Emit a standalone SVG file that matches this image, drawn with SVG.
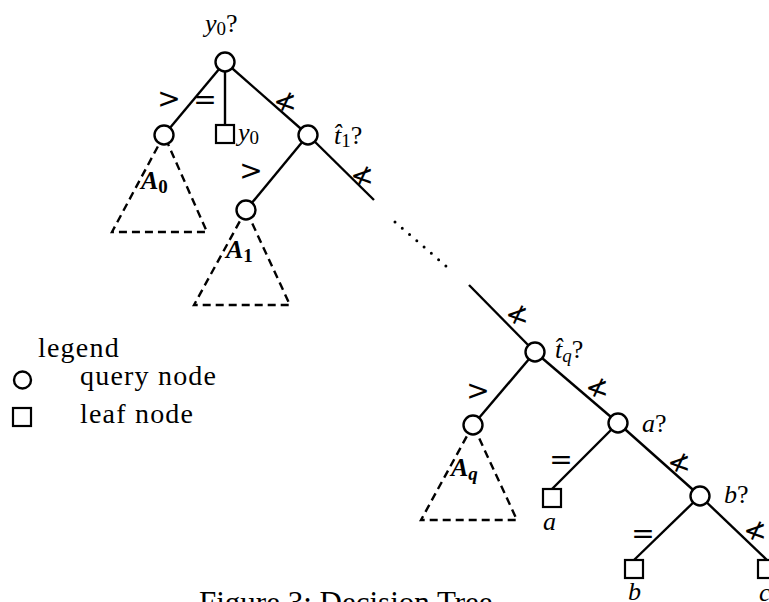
<svg xmlns="http://www.w3.org/2000/svg" width="769" height="602" viewBox="0 0 769 602">
<style>
.e{stroke:#000;stroke-width:2.4;fill:none}
.q{fill:#fff;stroke:#000;stroke-width:2.4}
.l{fill:#fff;stroke:#000;stroke-width:2.2}
.t{fill:none;stroke:#000;stroke-width:2.4;stroke-dasharray:8 5}
.m{font-family:"Liberation Serif",serif;font-style:italic;font-size:26px;fill:#000}
.s{font-size:19px;font-style:normal}
.u{font-style:normal}
.r{font-family:"DejaVu Sans",sans-serif;font-size:28px;text-anchor:middle;fill:#000}
.tl{font-family:"Liberation Serif",serif;font-style:italic;font-weight:bold;font-size:26px;fill:#000}
.lg{font-family:"Liberation Serif",serif;font-size:28px;letter-spacing:1.2px;fill:#000}
.cap{font-family:"Liberation Serif",serif;font-size:31px;fill:#000}
</style>
<rect width="769" height="602" fill="#fff"/>
<g id="connectors">
<line class="e" x1="225" y1="62" x2="164" y2="135"/>
<line class="e" x1="225" y1="62" x2="225" y2="125"/>
<line class="e" x1="225" y1="62" x2="308" y2="135"/>
<line class="e" x1="308" y1="135" x2="246" y2="210"/>
<line class="e" x1="308" y1="135" x2="374" y2="200"/>
<line x1="395" y1="222" x2="446" y2="266" stroke="#000" stroke-width="3" stroke-linecap="round" stroke-dasharray="0 9.6"/>
<line class="e" x1="469" y1="285" x2="535" y2="352"/>
<line class="e" x1="535" y1="352" x2="473" y2="425"/>
<line class="e" x1="535" y1="352" x2="618" y2="423"/>
<line class="e" x1="618" y1="423" x2="552" y2="489"/>
<line class="e" x1="618" y1="423" x2="700" y2="496"/>
<line class="e" x1="700" y1="496" x2="634" y2="560"/>
<line class="e" x1="700" y1="496" x2="767" y2="560"/>
</g>
<g id="edge-labels">
<text class="r" x="169" y="108">&gt;</text>
<text class="r" x="205" y="109">=</text>
<text class="r" x="285" y="111">≮</text>
<text class="r" x="251" y="180">&gt;</text>
<text class="r" x="362" y="185">≮</text>
<text class="r" x="517" y="324">≮</text>
<text class="r" x="478" y="400">&gt;</text>
<text class="r" x="597" y="397">≮</text>
<text class="r" x="561" y="469">=</text>
<text class="r" x="679" y="472">≮</text>
<text class="r" x="643" y="543">=</text>
<text class="r" x="755" y="540">≮</text>
</g>
<g id="root">
<circle class="q" cx="225" cy="62" r="9.5"/>
<text class="m" x="205" y="32">y<tspan class="s" dy="3">0</tspan><tspan class="u" dy="-3">?</tspan></text>
</g>
<g id="A0">
<path class="t" d="M164 135 L112 232 L207 232 Z"/>
<circle class="q" cx="164" cy="135" r="9.5"/>
<text class="tl" x="141" y="189">A<tspan class="s" dy="4">0</tspan></text>
</g>
<g id="leaf-y0">
<rect class="l" x="216" y="125" width="18" height="18"/>
<text class="m" x="238" y="141">y<tspan class="s" dy="3">0</tspan></text>
</g>
<g id="t1">
<circle class="q" cx="308" cy="135" r="9.5"/>
<text class="m" x="334" y="144">t&#x302;<tspan class="s" dy="3">1</tspan><tspan class="u" dy="-3">?</tspan></text>
</g>
<g id="A1">
<path class="t" d="M246 210 L194 305 L290 305 Z"/>
<circle class="q" cx="246" cy="210" r="9.5"/>
<text class="tl" x="226" y="258">A<tspan class="s" dy="4">1</tspan></text>
</g>
<g id="tq">
<circle class="q" cx="535" cy="352" r="9.5"/>
<text class="m" x="555" y="358">t&#x302;<tspan class="s" dy="4" style="font-style:italic">q</tspan><tspan class="u" dy="-4">?</tspan></text>
</g>
<g id="Aq">
<path class="t" d="M473 425 L421 520 L517 520 Z"/>
<circle class="q" cx="473" cy="425" r="9.5"/>
<text class="tl" x="451" y="476">A<tspan class="s" dy="4" style="font-style:italic">q</tspan></text>
</g>
<g id="a-query">
<circle class="q" cx="618" cy="423" r="9.5"/>
<text class="m" x="642" y="432">a<tspan class="u">?</tspan></text>
</g>
<g id="leaf-a">
<rect class="l" x="543" y="489" width="18" height="18"/>
<text class="m" x="543" y="530">a</text>
</g>
<g id="b-query">
<circle class="q" cx="700" cy="496" r="9.5"/>
<text class="m" x="724" y="503">b<tspan class="u">?</tspan></text>
</g>
<g id="leaf-b">
<rect class="l" x="625" y="560" width="18" height="18"/>
<text class="m" x="628" y="600">b</text>
</g>
<g id="leaf-c">
<rect class="l" x="758" y="560" width="18" height="18"/>
<text class="m" x="759" y="601">c</text>
</g>
<g id="legend">
<text class="lg" x="38" y="357">legend</text>
<circle class="q" cx="22.5" cy="380" r="8.5"/>
<text class="lg" x="80" y="385">query node</text>
<rect class="l" x="13" y="408" width="18" height="18"/>
<text class="lg" x="80" y="423">leaf node</text>
</g>
<g id="caption">
<text class="cap" x="199" y="613">Figure 3: Decision Tree</text>
</g>
</svg>
